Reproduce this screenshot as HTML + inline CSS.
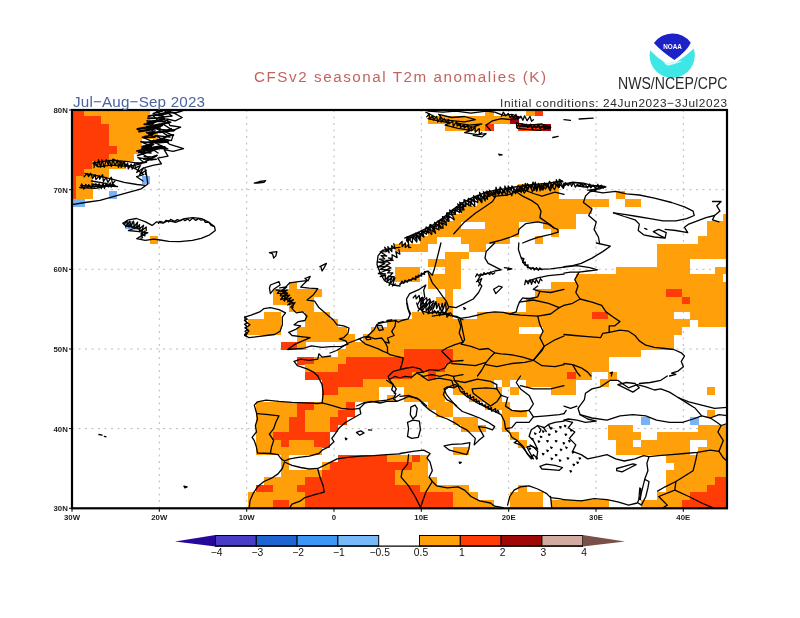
<!DOCTYPE html>
<html><head><meta charset="utf-8"><title>CFSv2 seasonal T2m anomalies (K)</title>
<style>
html,body{margin:0;padding:0;background:#fff;}
body{width:800px;height:618px;overflow:hidden;position:relative;font-family:"Liberation Sans",sans-serif;}
svg{position:absolute;left:0;top:0;}
.t{position:absolute;white-space:nowrap;line-height:1;transform-origin:0 0;}
</style></head><body>
<svg width="800" height="618" viewBox="0 0 800 618">
<rect x="0" y="0" width="800" height="618" fill="#fff"/>
<defs><clipPath id="mapclip"><rect x="72" y="110" width="655" height="398.3"/></clipPath></defs>
<g stroke="#acacac" stroke-width="0.85" stroke-dasharray="2 4.5" fill="none"><line x1="159.3" y1="110.0" x2="159.3" y2="508.3"/><line x1="246.7" y1="110.0" x2="246.7" y2="508.3"/><line x1="334.0" y1="110.0" x2="334.0" y2="508.3"/><line x1="421.3" y1="110.0" x2="421.3" y2="508.3"/><line x1="508.7" y1="110.0" x2="508.7" y2="508.3"/><line x1="596.0" y1="110.0" x2="596.0" y2="508.3"/><line x1="683.3" y1="110.0" x2="683.3" y2="508.3"/><line x1="72.0" y1="428.6" x2="727.0" y2="428.6"/><line x1="72.0" y1="349.0" x2="727.0" y2="349.0"/><line x1="72.0" y1="269.3" x2="727.0" y2="269.3"/><line x1="72.0" y1="189.7" x2="727.0" y2="189.7"/></g>
<g shape-rendering="crispEdges">
<rect x="72.00" y="110.00" width="12.58" height="6.33" fill="#ff3c05"/>
<rect x="84.28" y="110.00" width="65.80" height="6.33" fill="#ffa00a"/>
<rect x="485.47" y="110.00" width="8.49" height="6.33" fill="#ffa00a"/>
<rect x="526.41" y="110.00" width="8.49" height="6.33" fill="#ffa00a"/>
<rect x="534.59" y="110.00" width="8.49" height="6.33" fill="#ff3c05"/>
<rect x="72.00" y="116.03" width="28.96" height="7.83" fill="#ff3c05"/>
<rect x="100.66" y="116.03" width="49.42" height="7.83" fill="#ffa00a"/>
<rect x="428.16" y="116.03" width="82.17" height="7.83" fill="#ffa00a"/>
<rect x="510.03" y="116.03" width="8.49" height="7.83" fill="#a00808"/>
<rect x="72.00" y="123.55" width="37.14" height="7.83" fill="#ff3c05"/>
<rect x="108.84" y="123.55" width="41.24" height="7.83" fill="#ffa00a"/>
<rect x="444.53" y="123.55" width="41.24" height="7.83" fill="#ffa00a"/>
<rect x="485.47" y="123.55" width="8.49" height="7.83" fill="#ff3c05"/>
<rect x="518.22" y="123.55" width="24.86" height="7.83" fill="#ff3c05"/>
<rect x="542.78" y="123.55" width="8.49" height="7.83" fill="#a00808"/>
<rect x="72.00" y="131.08" width="37.14" height="7.83" fill="#ff3c05"/>
<rect x="108.84" y="131.08" width="49.42" height="7.83" fill="#ffa00a"/>
<rect x="72.00" y="138.61" width="37.14" height="7.83" fill="#ff3c05"/>
<rect x="108.84" y="138.61" width="33.05" height="7.83" fill="#ffa00a"/>
<rect x="72.00" y="146.13" width="45.33" height="7.83" fill="#ff3c05"/>
<rect x="117.03" y="146.13" width="24.86" height="7.83" fill="#ffa00a"/>
<rect x="72.00" y="153.66" width="37.14" height="7.83" fill="#ff3c05"/>
<rect x="108.84" y="153.66" width="24.86" height="7.83" fill="#ffa00a"/>
<rect x="72.00" y="161.18" width="20.77" height="7.83" fill="#ff3c05"/>
<rect x="92.47" y="161.18" width="33.05" height="7.83" fill="#ffa00a"/>
<rect x="72.00" y="168.71" width="12.58" height="7.83" fill="#ff3c05"/>
<rect x="84.28" y="168.71" width="24.86" height="7.83" fill="#ffa00a"/>
<rect x="72.00" y="176.24" width="4.39" height="7.83" fill="#ff3c05"/>
<rect x="76.09" y="176.24" width="16.68" height="7.83" fill="#ffa00a"/>
<rect x="141.59" y="176.24" width="8.49" height="7.83" fill="#78b4f5"/>
<rect x="72.00" y="183.76" width="4.39" height="7.83" fill="#ff3c05"/>
<rect x="76.09" y="183.76" width="16.68" height="7.83" fill="#ffa00a"/>
<rect x="518.22" y="183.76" width="41.24" height="7.83" fill="#ffa00a"/>
<rect x="72.00" y="191.29" width="4.39" height="7.83" fill="#ff3c05"/>
<rect x="76.09" y="191.29" width="16.68" height="7.83" fill="#ffa00a"/>
<rect x="108.84" y="191.29" width="8.49" height="7.83" fill="#78b4f5"/>
<rect x="485.47" y="191.29" width="73.99" height="7.83" fill="#ffa00a"/>
<rect x="616.47" y="191.29" width="8.49" height="7.83" fill="#ffa00a"/>
<rect x="72.00" y="198.82" width="12.58" height="7.83" fill="#78b4f5"/>
<rect x="477.28" y="198.82" width="131.30" height="7.83" fill="#ffa00a"/>
<rect x="624.66" y="198.82" width="16.68" height="7.83" fill="#ffa00a"/>
<rect x="460.91" y="206.35" width="131.30" height="7.83" fill="#ffa00a"/>
<rect x="452.72" y="213.87" width="123.11" height="7.83" fill="#ffa00a"/>
<rect x="722.91" y="213.87" width="4.39" height="7.83" fill="#ffa00a"/>
<rect x="125.22" y="221.40" width="8.49" height="7.83" fill="#78b4f5"/>
<rect x="436.34" y="221.40" width="24.86" height="7.83" fill="#ffa00a"/>
<rect x="485.47" y="221.40" width="33.05" height="7.83" fill="#ffa00a"/>
<rect x="542.78" y="221.40" width="33.05" height="7.83" fill="#ffa00a"/>
<rect x="706.53" y="221.40" width="20.77" height="7.83" fill="#ffa00a"/>
<rect x="428.16" y="228.93" width="90.36" height="7.83" fill="#ffa00a"/>
<rect x="550.97" y="228.93" width="8.49" height="7.83" fill="#ffa00a"/>
<rect x="706.53" y="228.93" width="20.77" height="7.83" fill="#ffa00a"/>
<rect x="149.78" y="236.45" width="8.49" height="7.83" fill="#ffa00a"/>
<rect x="419.97" y="236.45" width="16.68" height="7.83" fill="#ffa00a"/>
<rect x="460.91" y="236.45" width="49.42" height="7.83" fill="#ffa00a"/>
<rect x="534.59" y="236.45" width="8.49" height="7.83" fill="#ffa00a"/>
<rect x="698.34" y="236.45" width="28.96" height="7.83" fill="#ffa00a"/>
<rect x="395.41" y="243.98" width="33.05" height="7.83" fill="#ffa00a"/>
<rect x="469.09" y="243.98" width="16.68" height="7.83" fill="#ffa00a"/>
<rect x="657.41" y="243.98" width="69.89" height="7.83" fill="#ffa00a"/>
<rect x="444.53" y="251.51" width="24.86" height="7.83" fill="#ffa00a"/>
<rect x="657.41" y="251.51" width="69.89" height="7.83" fill="#ffa00a"/>
<rect x="428.16" y="259.03" width="33.05" height="7.83" fill="#ffa00a"/>
<rect x="657.41" y="259.03" width="33.05" height="7.83" fill="#ffa00a"/>
<rect x="395.41" y="266.56" width="24.86" height="7.83" fill="#ffa00a"/>
<rect x="444.53" y="266.56" width="16.68" height="7.83" fill="#ffa00a"/>
<rect x="616.47" y="266.56" width="73.99" height="7.83" fill="#ffa00a"/>
<rect x="714.72" y="266.56" width="12.58" height="7.83" fill="#ffa00a"/>
<rect x="395.41" y="274.09" width="24.86" height="7.83" fill="#ffa00a"/>
<rect x="428.16" y="274.09" width="33.05" height="7.83" fill="#ffa00a"/>
<rect x="575.53" y="274.09" width="147.67" height="7.83" fill="#ffa00a"/>
<rect x="288.97" y="281.61" width="8.49" height="7.83" fill="#ffa00a"/>
<rect x="428.16" y="281.61" width="33.05" height="7.83" fill="#ffa00a"/>
<rect x="550.97" y="281.61" width="176.33" height="7.83" fill="#ffa00a"/>
<rect x="272.59" y="289.14" width="49.42" height="7.83" fill="#ffa00a"/>
<rect x="444.53" y="289.14" width="8.49" height="7.83" fill="#ffa00a"/>
<rect x="534.59" y="289.14" width="131.30" height="7.83" fill="#ffa00a"/>
<rect x="665.59" y="289.14" width="16.67" height="7.83" fill="#ff3c05"/>
<rect x="681.97" y="289.14" width="45.33" height="7.83" fill="#ffa00a"/>
<rect x="272.59" y="296.67" width="41.24" height="7.83" fill="#ffa00a"/>
<rect x="436.34" y="296.67" width="16.68" height="7.83" fill="#ffa00a"/>
<rect x="526.41" y="296.67" width="155.86" height="7.83" fill="#ffa00a"/>
<rect x="681.97" y="296.67" width="8.49" height="7.83" fill="#ff3c05"/>
<rect x="690.16" y="296.67" width="37.14" height="7.83" fill="#ffa00a"/>
<rect x="288.97" y="304.19" width="24.86" height="7.83" fill="#ffa00a"/>
<rect x="444.53" y="304.19" width="8.49" height="7.83" fill="#ffa00a"/>
<rect x="526.41" y="304.19" width="200.89" height="7.83" fill="#ffa00a"/>
<rect x="264.41" y="311.72" width="16.68" height="7.83" fill="#ffa00a"/>
<rect x="305.34" y="311.72" width="24.86" height="7.83" fill="#ffa00a"/>
<rect x="411.78" y="311.72" width="41.24" height="7.83" fill="#ffa00a"/>
<rect x="477.28" y="311.72" width="114.93" height="7.83" fill="#ffa00a"/>
<rect x="591.91" y="311.72" width="16.68" height="7.83" fill="#ff3c05"/>
<rect x="608.28" y="311.72" width="65.80" height="7.83" fill="#ffa00a"/>
<rect x="690.16" y="311.72" width="37.14" height="7.83" fill="#ffa00a"/>
<rect x="248.03" y="319.25" width="33.05" height="7.83" fill="#ffa00a"/>
<rect x="305.34" y="319.25" width="33.05" height="7.83" fill="#ffa00a"/>
<rect x="387.22" y="319.25" width="303.24" height="7.83" fill="#ffa00a"/>
<rect x="698.34" y="319.25" width="28.96" height="7.83" fill="#ffa00a"/>
<rect x="248.03" y="326.77" width="33.05" height="7.83" fill="#ffa00a"/>
<rect x="297.16" y="326.77" width="49.42" height="7.83" fill="#ffa00a"/>
<rect x="370.84" y="326.77" width="147.68" height="7.83" fill="#ffa00a"/>
<rect x="542.78" y="326.77" width="139.49" height="7.83" fill="#ffa00a"/>
<rect x="297.16" y="334.30" width="57.61" height="7.83" fill="#ffa00a"/>
<rect x="362.66" y="334.30" width="311.42" height="7.83" fill="#ffa00a"/>
<rect x="280.78" y="341.83" width="16.68" height="7.83" fill="#ff3c05"/>
<rect x="297.16" y="341.83" width="8.49" height="7.83" fill="#ffa00a"/>
<rect x="346.28" y="341.83" width="327.80" height="7.83" fill="#ffa00a"/>
<rect x="338.09" y="349.35" width="65.80" height="7.83" fill="#ffa00a"/>
<rect x="403.59" y="349.35" width="49.42" height="7.83" fill="#ff3c05"/>
<rect x="452.72" y="349.35" width="188.61" height="7.83" fill="#ffa00a"/>
<rect x="297.16" y="356.88" width="16.68" height="7.83" fill="#ff3c05"/>
<rect x="313.53" y="356.88" width="33.05" height="7.83" fill="#ffa00a"/>
<rect x="346.28" y="356.88" width="106.74" height="7.83" fill="#ff3c05"/>
<rect x="452.72" y="356.88" width="155.86" height="7.83" fill="#ffa00a"/>
<rect x="305.34" y="364.41" width="33.05" height="7.83" fill="#ffa00a"/>
<rect x="338.09" y="364.41" width="106.74" height="7.83" fill="#ff3c05"/>
<rect x="444.53" y="364.41" width="164.05" height="7.83" fill="#ffa00a"/>
<rect x="305.34" y="371.94" width="106.74" height="7.83" fill="#ff3c05"/>
<rect x="411.78" y="371.94" width="16.68" height="7.83" fill="#ffa00a"/>
<rect x="428.16" y="371.94" width="8.49" height="7.83" fill="#ff3c05"/>
<rect x="436.34" y="371.94" width="131.30" height="7.83" fill="#ffa00a"/>
<rect x="567.34" y="371.94" width="8.49" height="7.83" fill="#ff3c05"/>
<rect x="575.53" y="371.94" width="16.68" height="7.83" fill="#ffa00a"/>
<rect x="608.28" y="371.94" width="8.49" height="7.83" fill="#ffa00a"/>
<rect x="321.72" y="379.46" width="41.24" height="7.83" fill="#ff3c05"/>
<rect x="362.66" y="379.46" width="131.30" height="7.83" fill="#ffa00a"/>
<rect x="501.84" y="379.46" width="8.49" height="7.83" fill="#ffa00a"/>
<rect x="526.41" y="379.46" width="49.42" height="7.83" fill="#ffa00a"/>
<rect x="600.09" y="379.46" width="8.49" height="7.83" fill="#ffa00a"/>
<rect x="321.72" y="386.99" width="16.68" height="7.83" fill="#ff3c05"/>
<rect x="338.09" y="386.99" width="41.24" height="7.83" fill="#ffa00a"/>
<rect x="403.59" y="386.99" width="41.24" height="7.83" fill="#ffa00a"/>
<rect x="452.72" y="386.99" width="49.42" height="7.83" fill="#ffa00a"/>
<rect x="510.03" y="386.99" width="8.49" height="7.83" fill="#ffa00a"/>
<rect x="550.97" y="386.99" width="24.86" height="7.83" fill="#ffa00a"/>
<rect x="706.53" y="386.99" width="8.49" height="7.83" fill="#ffa00a"/>
<rect x="321.72" y="394.52" width="57.61" height="7.83" fill="#ffa00a"/>
<rect x="387.22" y="394.52" width="8.49" height="7.83" fill="#ffa00a"/>
<rect x="403.59" y="394.52" width="41.24" height="7.83" fill="#ffa00a"/>
<rect x="469.09" y="394.52" width="33.05" height="7.83" fill="#ffa00a"/>
<rect x="256.22" y="402.04" width="41.24" height="7.83" fill="#ffa00a"/>
<rect x="297.16" y="402.04" width="16.68" height="7.83" fill="#ff3c05"/>
<rect x="313.53" y="402.04" width="33.05" height="7.83" fill="#ffa00a"/>
<rect x="346.28" y="402.04" width="8.49" height="7.83" fill="#ff3c05"/>
<rect x="428.16" y="402.04" width="24.86" height="7.83" fill="#ffa00a"/>
<rect x="485.47" y="402.04" width="24.86" height="7.83" fill="#ffa00a"/>
<rect x="256.22" y="409.57" width="41.24" height="7.83" fill="#ffa00a"/>
<rect x="297.16" y="409.57" width="8.49" height="7.83" fill="#ff3c05"/>
<rect x="305.34" y="409.57" width="33.05" height="7.83" fill="#ffa00a"/>
<rect x="338.09" y="409.57" width="16.68" height="7.83" fill="#ff3c05"/>
<rect x="436.34" y="409.57" width="16.68" height="7.83" fill="#ffa00a"/>
<rect x="501.84" y="409.57" width="24.86" height="7.83" fill="#ffa00a"/>
<rect x="706.53" y="409.57" width="8.49" height="7.83" fill="#ffa00a"/>
<rect x="256.22" y="417.10" width="33.05" height="7.83" fill="#ffa00a"/>
<rect x="288.97" y="417.10" width="16.68" height="7.83" fill="#ff3c05"/>
<rect x="305.34" y="417.10" width="24.86" height="7.83" fill="#ffa00a"/>
<rect x="329.91" y="417.10" width="16.68" height="7.83" fill="#ff3c05"/>
<rect x="452.72" y="417.10" width="24.86" height="7.83" fill="#ffa00a"/>
<rect x="501.84" y="417.10" width="8.49" height="7.83" fill="#ffa00a"/>
<rect x="641.03" y="417.10" width="8.49" height="7.83" fill="#78b4f5"/>
<rect x="690.16" y="417.10" width="8.49" height="7.83" fill="#78b4f5"/>
<rect x="256.22" y="424.62" width="33.05" height="7.83" fill="#ffa00a"/>
<rect x="288.97" y="424.62" width="16.68" height="7.83" fill="#ff3c05"/>
<rect x="305.34" y="424.62" width="24.86" height="7.83" fill="#ffa00a"/>
<rect x="329.91" y="424.62" width="8.49" height="7.83" fill="#ff3c05"/>
<rect x="460.91" y="424.62" width="24.86" height="7.83" fill="#ffa00a"/>
<rect x="501.84" y="424.62" width="8.49" height="7.83" fill="#ffa00a"/>
<rect x="608.28" y="424.62" width="24.86" height="7.83" fill="#ffa00a"/>
<rect x="698.34" y="424.62" width="28.96" height="7.83" fill="#ffa00a"/>
<rect x="256.22" y="432.15" width="16.68" height="7.83" fill="#ffa00a"/>
<rect x="272.59" y="432.15" width="57.61" height="7.83" fill="#ff3c05"/>
<rect x="510.03" y="432.15" width="8.49" height="7.83" fill="#ffa00a"/>
<rect x="608.28" y="432.15" width="33.05" height="7.83" fill="#ffa00a"/>
<rect x="657.41" y="432.15" width="69.89" height="7.83" fill="#ffa00a"/>
<rect x="256.22" y="439.68" width="24.86" height="7.83" fill="#ffa00a"/>
<rect x="280.78" y="439.68" width="8.49" height="7.83" fill="#ff3c05"/>
<rect x="288.97" y="439.68" width="24.86" height="7.83" fill="#ffa00a"/>
<rect x="313.53" y="439.68" width="16.68" height="7.83" fill="#ff3c05"/>
<rect x="518.22" y="439.68" width="8.49" height="7.83" fill="#ffa00a"/>
<rect x="616.47" y="439.68" width="16.68" height="7.83" fill="#ffa00a"/>
<rect x="641.03" y="439.68" width="49.42" height="7.83" fill="#ffa00a"/>
<rect x="706.53" y="439.68" width="20.77" height="7.83" fill="#ffa00a"/>
<rect x="256.22" y="447.20" width="65.80" height="7.83" fill="#ffa00a"/>
<rect x="452.72" y="447.20" width="16.68" height="7.83" fill="#ffa00a"/>
<rect x="616.47" y="447.20" width="73.99" height="7.83" fill="#ffa00a"/>
<rect x="698.34" y="447.20" width="28.96" height="7.83" fill="#ffa00a"/>
<rect x="280.78" y="454.73" width="8.49" height="7.83" fill="#ffa00a"/>
<rect x="338.09" y="454.73" width="49.42" height="7.83" fill="#ff3c05"/>
<rect x="387.22" y="454.73" width="24.86" height="7.83" fill="#ffa00a"/>
<rect x="411.78" y="454.73" width="8.49" height="7.83" fill="#ff3c05"/>
<rect x="419.97" y="454.73" width="8.49" height="7.83" fill="#ffa00a"/>
<rect x="665.59" y="454.73" width="61.71" height="7.83" fill="#ffa00a"/>
<rect x="280.78" y="462.26" width="8.49" height="7.83" fill="#ffa00a"/>
<rect x="321.72" y="462.26" width="8.49" height="7.83" fill="#ffa00a"/>
<rect x="329.91" y="462.26" width="82.17" height="7.83" fill="#ff3c05"/>
<rect x="411.78" y="462.26" width="16.68" height="7.83" fill="#ffa00a"/>
<rect x="673.78" y="462.26" width="53.52" height="7.83" fill="#ffa00a"/>
<rect x="280.78" y="469.78" width="41.24" height="7.83" fill="#ffa00a"/>
<rect x="321.72" y="469.78" width="73.99" height="7.83" fill="#ff3c05"/>
<rect x="395.41" y="469.78" width="33.05" height="7.83" fill="#ffa00a"/>
<rect x="665.59" y="469.78" width="61.71" height="7.83" fill="#ffa00a"/>
<rect x="264.41" y="477.31" width="41.24" height="7.83" fill="#ffa00a"/>
<rect x="305.34" y="477.31" width="90.36" height="7.83" fill="#ff3c05"/>
<rect x="395.41" y="477.31" width="41.24" height="7.83" fill="#ffa00a"/>
<rect x="665.59" y="477.31" width="49.42" height="7.83" fill="#ffa00a"/>
<rect x="714.72" y="477.31" width="12.58" height="7.83" fill="#ff3c05"/>
<rect x="256.22" y="484.84" width="16.68" height="7.83" fill="#ff3c05"/>
<rect x="272.59" y="484.84" width="24.86" height="7.83" fill="#ffa00a"/>
<rect x="297.16" y="484.84" width="123.11" height="7.83" fill="#ff3c05"/>
<rect x="419.97" y="484.84" width="49.42" height="7.83" fill="#ffa00a"/>
<rect x="518.22" y="484.84" width="8.49" height="7.83" fill="#ffa00a"/>
<rect x="665.59" y="484.84" width="41.24" height="7.83" fill="#ffa00a"/>
<rect x="706.53" y="484.84" width="20.77" height="7.83" fill="#ff3c05"/>
<rect x="248.03" y="492.37" width="57.61" height="7.83" fill="#ffa00a"/>
<rect x="305.34" y="492.37" width="147.67" height="7.83" fill="#ff3c05"/>
<rect x="452.72" y="492.37" width="24.86" height="7.83" fill="#ffa00a"/>
<rect x="510.03" y="492.37" width="33.05" height="7.83" fill="#ffa00a"/>
<rect x="657.41" y="492.37" width="33.05" height="7.83" fill="#ffa00a"/>
<rect x="690.16" y="492.37" width="37.14" height="7.83" fill="#ff3c05"/>
<rect x="248.03" y="499.89" width="24.86" height="7.83" fill="#ffa00a"/>
<rect x="272.59" y="499.89" width="16.68" height="7.83" fill="#ff3c05"/>
<rect x="288.97" y="499.89" width="16.68" height="7.83" fill="#ffa00a"/>
<rect x="305.34" y="499.89" width="147.67" height="7.83" fill="#ff3c05"/>
<rect x="452.72" y="499.89" width="41.24" height="7.83" fill="#ffa00a"/>
<rect x="510.03" y="499.89" width="33.05" height="7.83" fill="#ffa00a"/>
<rect x="550.97" y="499.89" width="57.61" height="7.83" fill="#ffa00a"/>
<rect x="641.03" y="499.89" width="41.24" height="7.83" fill="#ffa00a"/>
<rect x="681.97" y="499.89" width="45.33" height="7.83" fill="#ff3c05"/>
<rect x="248.03" y="507.42" width="24.86" height="1.18" fill="#ffa00a"/>
<rect x="272.59" y="507.42" width="16.68" height="1.18" fill="#ff3c05"/>
<rect x="288.97" y="507.42" width="16.68" height="1.18" fill="#ffa00a"/>
<rect x="305.34" y="507.42" width="147.67" height="1.18" fill="#ff3c05"/>
<rect x="452.72" y="507.42" width="41.24" height="1.18" fill="#ffa00a"/>
<rect x="510.03" y="507.42" width="33.05" height="1.18" fill="#ffa00a"/>
<rect x="550.97" y="507.42" width="57.61" height="1.18" fill="#ffa00a"/>
<rect x="641.03" y="507.42" width="41.24" height="1.18" fill="#ffa00a"/>
<rect x="681.97" y="507.42" width="45.33" height="1.18" fill="#ff3c05"/>
</g>
<g fill="none" stroke="#000" stroke-width="1.30" stroke-linejoin="round" stroke-linecap="round" clip-path="url(#mapclip)"><path d="M163.5,110.0 L173.1,112.6 L182.2,117.5 L175.3,120.8 L166.7,119.0 L169.9,125.5 L180.7,127.2 L173.1,130.4 L163.5,131.1 L173.1,135.4 L171.4,140.6 L162.0,138.4 L169.9,144.4 L183.5,148.7 L173.1,151.3 L164.1,149.6 L168.0,156.1 L157.7,158.2 L161.5,163.8 L153.8,165.1 L144.7,167.7 L146.5,174.6 L147.8,184.0 L141.3,188.8 L125.8,193.1 L115.0,196.1 L100.0,200.4 L84.9,202.5 L72.0,204.7"/><path d="M154.2,109.5 L162.7,115.4 L153.0,115.6 L158.4,121.3 L146.7,120.8 L156.3,127.2 L146.5,126.5 L154.1,131.8 L146.3,132.4 L154.8,137.4 L142.2,137.1 L155.8,142.9 L140.7,141.7 L151.6,146.7 L141.5,146.8 L151.2,153.0 L139.6,152.3 L152.1,159.8 L137.8,157.6 L143.0,161.7"/><path d="M164.7,111.0 L172.2,116.0 L158.9,117.3 L170.9,122.3 L162.2,123.6 L173.5,130.8 L157.2,128.9 L170.0,137.2 L155.0,135.5 L168.5,142.2 L155.5,143.0 L167.8,148.9 L150.8,148.3 L158.1,153.0"/><path d="M94.0,167.7 L94.6,161.4 L97.5,166.6 L98.5,159.7 L100.7,167.2 L102.0,159.9 L104.2,167.3 L106.3,159.7 L108.3,165.0 L109.1,160.3 L111.4,166.5 L112.8,159.7 L115.1,165.6 L117.5,160.2 L118.5,167.3 L120.9,161.2 L121.2,167.4 L124.1,161.4 L125.1,167.1 L127.6,163.1 L128.3,168.9 L131.2,164.1 L132.2,169.1 L134.8,163.5 L135.3,167.8 L140.3,165.6 L136.7,172.5 L143.7,167.7 L139.6,174.6 L146.2,170.2 L145.2,174.6"/><path d="M84.1,176.7 L87.2,173.5 L88.5,176.6 L90.7,173.3 L92.6,178.4 L95.1,174.8 L95.9,179.7 L99.2,175.8 L99.6,179.2 L102.6,174.7 L103.4,181.3 L106.2,177.5 L107.8,182.4 L111.3,177.2 L112.4,183.7 L115.0,181.0"/><path d="M81.2,187.8 L81.8,184.0 L83.8,189.2 L85.7,184.4 L87.9,187.5 L88.6,184.7 L91.5,187.8 L92.3,184.7 L94.6,187.0 L95.8,183.6 L98.0,187.7 L99.1,183.7 L101.3,188.6 L103.1,183.0 L104.5,188.4 L106.0,183.1 L108.4,186.9 L110.3,182.9 L111.2,187.1 L112.8,183.8 L115.0,185.8"/><path d="M93.1,162.9 L110.7,160.4 L128.4,161.7 L141.3,163.8 L128.4,166.4 L111.2,165.1 L98.3,166.8 L93.1,163.8"/><path d="M112.9,159.1 L124.1,163.8 L136.6,169.4 L143.5,174.6 L136.6,176.7 L143.0,181.0"/><path d="M84.9,173.5 L98.3,175.9 L111.2,178.9 L124.1,182.3 L137.0,184.5 L145.2,185.3"/><path d="M91.4,181.0 L104.3,183.2 L117.6,186.6 L104.3,185.8 L91.8,184.0"/><path d="M80.6,185.3 L93.5,186.6 L111.2,185.3 L95.7,188.3 L79.7,187.5"/><path d="M122.8,223.2 L128.4,219.8 L136.6,218.5 L145.6,221.9 L152.1,225.4 L156.4,221.9 L162.8,223.2 L168.0,220.6 L175.7,222.3 L184.3,218.7 L192.9,217.6 L201.6,218.7 L208.0,221.9 L214.5,226.6 L215.3,230.5 L209.7,234.8 L201.1,238.3 L192.5,240.4 L179.6,241.7 L168.8,241.3 L160.2,240.0 L153.8,239.1 L145.2,240.4 L136.6,238.7 L141.3,235.9 L147.8,232.7 L139.1,231.6 L128.4,230.5 L137.0,227.5 L126.2,226.2 L122.8,223.2"/><path d="M124.2,224.2 L127.0,220.8 L127.3,225.0 L129.9,221.2 L130.5,226.4 L133.5,221.1 L134.4,226.3 L137.6,222.1 L136.6,227.7 L139.6,224.7 L138.8,229.3 L143.6,225.3 L142.0,230.4 L146.2,227.0 L146.2,230.5"/><path d="M125.5,226.8 L127.7,223.8 L128.7,226.9 L130.5,223.8 L132.1,227.4 L134.1,225.9 L134.8,228.9 L137.1,226.3 L136.9,228.9 L140.0,228.0 L139.3,231.5 L142.6,229.2 L141.6,234.2 L145.0,231.0 L144.5,233.0 L144.9,235.8 L141.0,233.8 L142.5,237.8 L140.9,238.1"/><path d="M158.5,223.4 L159.9,221.4 L164.1,222.6 L166.1,220.3 L168.8,222.0 L170.6,219.4 L174.6,221.4 L177.4,219.6 L180.4,220.8 L183.1,219.3 L184.9,220.6 L187.8,218.9 L189.7,220.9 L192.8,218.0 L195.8,220.4 L198.8,218.4 L200.5,220.1 L204.3,219.7 L205.1,222.3 L209.3,222.4 L210.8,225.2 L213.0,226.2"/><path d="M174.7,112.9 L180.3,111.4 L186.2,109.1" stroke-width="1.6"/><path d="M163.1,114.4 L172.2,112.5 L176.3,112.7" stroke-width="1.6"/><path d="M148.4,116.1 L157.8,114.3 L170.2,111.8" stroke-width="1.8"/><path d="M148.1,118.3 L158.0,118.0 L163.8,116.8" stroke-width="2.1"/><path d="M149.7,121.4 L156.6,120.4 L164.8,118.6" stroke-width="1.4"/><path d="M147.4,122.7 L157.7,120.9 L165.0,121.5" stroke-width="2.0"/><path d="M144.4,124.2 L147.5,124.3 L153.0,123.5" stroke-width="2.1"/><path d="M148.5,126.6 L161.4,124.1 L168.3,122.5" stroke-width="2.3"/><path d="M137.5,129.1 L143.8,127.8 L157.8,127.3" stroke-width="2.3"/><path d="M139.1,131.4 L153.2,129.1 L162.2,125.2" stroke-width="2.2"/><path d="M159.9,132.2 L167.2,130.5 L171.1,129.1" stroke-width="2.3"/><path d="M149.2,134.2 L157.4,132.3 L174.4,130.1" stroke-width="2.1"/><path d="M144.4,136.6 L147.5,136.2 L153.5,133.8" stroke-width="1.7"/><path d="M163.3,138.3 L167.6,135.7 L173.3,135.1" stroke-width="2.0"/><path d="M153.5,141.4 L157.5,140.3 L161.7,138.9" stroke-width="2.2"/><path d="M150.8,142.4 L157.4,140.5 L163.7,139.5" stroke-width="2.3"/><path d="M148.7,144.5 L155.2,142.0 L168.9,140.8" stroke-width="1.5"/><path d="M143.2,146.2 L148.1,145.8 L153.3,144.5" stroke-width="2.1"/><path d="M147.0,149.1 L152.1,147.6 L161.6,145.8" stroke-width="1.7"/><path d="M136.8,151.1 L147.0,148.6 L158.0,147.0" stroke-width="1.5"/><path d="M138.8,152.1 L153.5,149.0 L164.7,147.1" stroke-width="2.1"/><path d="M137.7,155.5 L152.3,150.7 L159.6,147.9" stroke-width="1.8"/><path d="M144.1,156.7 L151.9,156.9 L157.1,155.3" stroke-width="1.5"/><path d="M143.7,159.1 L152.5,158.1 L156.5,155.7" stroke-width="1.7"/><path d="M145.6,161.2 L149.9,159.6 L156.2,159.2" stroke-width="1.6"/><path d="M136.4,163.3 L140.0,163.2 L146.2,162.1" stroke-width="2.0"/><path d="M153.3,113.5 L158.4,112.0 L162.6,111.0" stroke-width="1.7"/><path d="M159.4,119.7 L162.0,120.0 L164.7,118.4" stroke-width="1.8"/><path d="M149.4,123.6 L153.2,122.9 L156.0,121.7" stroke-width="1.6"/><path d="M153.7,128.7 L157.3,128.7 L160.2,128.0" stroke-width="1.7"/><path d="M149.4,132.4 L152.2,132.3 L155.0,130.9" stroke-width="1.5"/><path d="M144.2,137.6 L150.3,137.2 L155.6,136.2" stroke-width="1.5"/><path d="M145.8,142.8 L150.9,141.9 L153.9,140.2" stroke-width="1.6"/><path d="M141.9,148.9 L146.5,147.3 L150.0,146.3" stroke-width="1.8"/><path d="M254.3,183.2 L259.7,181.5 L265.7,180.6 L264.0,182.3 L257.5,183.2 L254.3,183.2"/><path d="M425.8,112.2 L434.4,116.5 L428.0,118.6 L438.7,120.8 L449.5,122.9 L445.2,125.1 L458.1,128.3 L471.0,130.4 L464.6,132.6 L477.5,134.7 L486.1,133.7 L481.8,136.9 L473.2,135.4"/><path d="M438.7,114.3 L451.7,117.5 L464.6,116.5 L475.3,119.7 L464.6,121.8 L453.8,120.8 L443.0,119.7 L438.7,114.3"/><path d="M456.0,122.9 L468.9,125.1 L481.8,124.0 L473.2,127.2 L460.3,126.1 L456.0,122.9"/><path d="M428.0,111.1 L443.0,112.2 L456.0,111.1 L471.0,113.2 L486.1,111.1 L494.7,112.2 L503.3,115.4 L511.9,114.3 L520.5,117.5 L511.9,119.7 L501.1,118.6 L492.5,120.8 L486.1,125.1 L490.4,130.4"/><path d="M516.2,122.9 L529.1,125.1 L542.0,124.0 L550.6,127.2 L539.9,130.4 L527.0,129.4 L517.3,128.3 L516.2,122.9"/><path d="M520.5,126.1 L533.4,127.2 L546.3,126.8"/><path d="M426.7,116.8 L429.1,114.0 L430.0,119.2 L432.5,115.5 L433.4,120.0 L436.6,116.5 L437.8,122.0 L440.5,117.0 L441.2,122.2 L444.3,118.8 L446.3,122.3 L448.5,119.5 L449.0,123.8 L452.7,121.2 L453.3,126.4 L456.6,121.5 L457.1,126.0 L460.4,123.9 L460.5,127.6 L464.3,124.6 L464.1,128.2 L467.9,124.6 L468.3,130.3 L471.4,126.7 L471.6,130.8 L475.1,127.3 L475.2,132.2 L479.3,128.6 L479.3,134.6 L481.8,132.6"/><path d="M516.6,127.5 L518.4,124.2 L519.7,127.1 L522.1,123.9 L523.7,126.6 L526.5,124.3 L527.7,127.5 L530.7,124.3 L532.1,128.8 L534.6,125.0 L535.8,128.0 L538.8,124.6 L540.0,128.8 L543.1,125.6 L544.0,128.2 L546.8,126.0 L548.3,128.9 L550.6,127.6"/><path d="M501.3,116.3 L503.3,112.2 L505.7,115.9 L508.3,113.4 L510.0,117.5 L512.1,115.2 L513.6,118.5 L516.0,114.4 L517.5,119.4 L520.8,116.1 L522.9,120.2 L524.6,115.8 L527.1,120.7 L530.1,116.4 L531.5,121.3 L533.4,119.7"/><path d="M552.8,137.5 L558.2,136.3"/><path d="M498.6,154.1 L502.2,154.8 L499.4,155.2"/><path d="M404.7,238.1 L419.8,231.6 L432.7,225.1 L443.5,217.6 L452.1,210.1 L462.8,202.5 L473.6,197.2 L484.4,192.9 L495.1,190.1 L505.9,188.6 L514.5,187.0 L527.4,185.3 L538.2,184.2 L548.9,183.2 L562.3,181.0"/><path d="M407.7,242.1 L407.7,238.1 L410.2,239.7 L410.1,236.5 L413.1,238.5 L413.1,234.3 L416.9,240.3 L415.6,233.1 L419.5,238.1 L418.8,232.3 L422.3,236.1 L421.3,230.3 L424.4,232.8 L425.1,230.2 L428.4,233.1 L427.1,227.6 L430.5,231.1 L429.8,225.0 L434.0,230.4 L432.9,225.8 L436.5,226.9 L434.6,222.4 L441.1,228.6 L438.1,220.9 L442.5,224.7 L441.2,219.5 L445.5,222.7 L442.5,216.6 L448.9,221.4 L446.2,216.2 L449.7,217.6 L447.6,213.0 L452.5,215.5 L449.5,210.0 L455.6,214.1 L454.3,210.4 L457.1,211.0 L457.0,207.9 L461.5,212.4 L457.7,203.9 L464.1,209.8 L461.0,202.7 L465.7,206.4 L465.6,202.4 L468.8,205.6 L468.6,200.5 L471.6,203.7 L470.9,198.4 L474.5,201.6 L473.7,195.7 L476.8,199.6 L477.2,195.3 L481.8,201.6 L479.6,192.5 L485.2,201.0 L483.4,191.7 L487.5,199.4 L486.9,190.9 L489.8,195.1 L490.9,192.9 L492.5,194.7 L493.7,191.3 L495.8,194.9 L496.0,187.2 L498.8,195.0 L499.1,189.0 L502.3,194.9 L503.1,190.0 L504.7,192.6 L504.9,185.9 L507.7,193.3 L508.2,185.9 L511.2,190.8 L511.9,186.0 L515.6,193.7 L516.5,188.4 L517.7,191.7 L519.3,187.7 L521.2,192.6 L522.4,187.6 L524.3,189.9 L525.3,183.5 L527.7,190.7 L528.4,185.1 L531.0,188.2 L532.0,184.5 L534.2,190.4 L535.3,182.1 L537.0,189.5 L538.5,183.3 L540.1,190.8 L541.7,183.8 L543.0,190.0 L544.7,183.3 L546.6,187.5 L547.8,183.8 L549.6,190.0 L550.9,184.3 L553.0,186.3 L553.8,181.9 L555.6,185.2 L556.4,179.7 L559.1,187.3 L560.4,180.8 L563.4,188.4 L564.0,183.2"/><path d="M408.6,244.7 L408.1,238.4 L412.2,242.9 L412.7,237.1 L416.8,242.0 L416.4,234.9 L420.2,240.6 L420.3,233.5 L423.9,237.0 L422.6,230.8 L426.3,234.3 L427.3,230.0 L431.7,234.5 L432.0,229.9 L435.5,233.2 L434.0,227.3 L439.1,229.8 L438.1,224.6 L443.0,228.3 L442.8,222.9 L446.5,225.3 L445.8,221.2 L449.1,220.4 L447.7,215.2 L454.3,219.7 L451.9,214.1 L455.4,214.0 L454.7,209.0 L459.9,212.7 L459.8,209.7 L463.0,210.1 L463.1,206.7 L465.5,206.4 L466.3,203.4 L470.9,206.2 L470.1,201.7 L474.7,206.3 L474.6,200.7 L477.6,202.4 L478.1,197.8 L481.8,202.8 L482.1,197.3 L485.6,199.1 L487.8,196.2 L489.3,196.5 L491.8,194.8 L494.7,197.4 L495.7,190.9 L498.2,194.2 L499.5,190.4 L501.9,193.6 L504.5,191.8 L506.9,195.5 L508.1,189.0 L511.8,195.8 L512.8,191.0 L514.9,191.5 L517.4,189.4 L519.5,191.4 L520.8,187.2 L524.3,193.1 L526.7,189.4 L527.7,189.4 L530.3,184.9 L532.4,192.1 L534.7,185.8 L536.7,191.2 L538.8,184.3 L541.9,189.8 L543.7,187.1 L545.6,189.1 L547.1,184.4 L550.4,190.8 L551.8,186.2 L554.6,189.7 L556.4,184.8 L558.5,187.7 L560.4,184.8 L563.1,187.9 L565.3,184.7"/><path d="M406.6,240.9 L406.9,236.8 L410.8,237.8 L413.2,234.9 L416.2,235.0 L418.2,232.9 L421.9,234.6 L423.2,231.1 L425.4,231.4 L426.1,227.0 L429.1,228.8 L430.6,224.4 L434.1,227.5 L435.5,223.9 L439.1,225.7 L439.1,220.4 L442.6,220.7 L443.0,217.1 L446.6,217.2 L446.7,212.9 L451.3,214.4 L452.3,211.0 L455.6,210.1 L456.3,206.9 L461.0,208.5 L459.7,202.2 L463.9,206.0 L464.0,199.6 L468.1,201.8 L468.4,198.3 L473.8,201.8 L473.4,196.9 L477.3,198.0 L479.8,194.8 L483.2,197.9 L485.0,192.1 L488.8,195.4 L489.6,190.5 L493.8,194.7 L496.1,190.1 L499.6,193.2 L500.1,186.8 L503.5,192.1 L505.7,188.2 L510.1,189.5 L512.2,186.5 L516.3,191.3 L518.0,185.5 L521.1,188.2 L522.7,184.7 L525.9,188.0 L527.3,183.6 L531.3,187.9 L533.0,182.2 L536.5,187.6 L539.2,184.8 L542.6,187.9 L544.3,182.9 L547.7,186.7 L549.5,181.3 L552.2,185.0 L554.6,182.7 L558.6,186.3 L559.3,179.4 L562.9,181.9"/><path d="M453.8,233.7 L464.6,221.9 L475.3,213.3 L485.0,206.8 L492.5,201.5 L495.8,196.1 L507.6,195.0 L516.2,191.8"/><path d="M516.2,191.8 L522.7,196.1 L531.3,200.4 L537.7,204.7 L541.0,211.1 L539.9,217.6 L550.6,225.1 L553.9,227.9"/><path d="M516.2,191.8 L524.8,190.1 L533.4,193.5 L542.0,196.1 L555.0,192.2 L564.0,194.4"/><path d="M490.0,243.0 L501.1,240.2 L510.8,237.0 L518.4,233.7 L518.8,229.4 L520.5,227.9 L525.9,223.6 L537.7,221.9 L548.5,224.1 L553.9,227.9 L557.7,229.4 L558.2,232.2 L550.6,234.4 L537.7,237.4 L529.1,240.4 L522.7,243.0"/><path d="M564.0,184.2 L572.6,182.1 L583.4,183.2 L592.0,185.3 L604.9,186.4 L596.3,188.6 L589.8,190.7 L602.7,192.9 L615.7,191.3 L626.4,193.9 L639.3,195.0 L654.4,198.2 L671.6,202.5 L684.5,206.8 L693.1,211.1 L694.2,215.5 L686.7,218.7 L675.9,220.8 L663.0,220.8 L650.1,218.7 L637.2,216.5 L624.3,214.4 L613.5,212.9"/><path d="M613.5,212.9 L624.3,216.5 L635.0,219.8 L639.3,224.1 L638.2,230.5 L643.6,234.8 L654.4,237.0 L665.1,238.1 L658.7,234.8 L653.3,231.6 L658.7,229.4 L666.2,232.7 L665.1,238.1"/><path d="M665.1,229.4 L675.9,230.5 L687.7,232.7 L684.5,227.3 L688.8,224.1 L697.4,220.8 L706.0,217.6 L714.6,215.5"/><path d="M712.5,201.5 L721.1,201.5 L716.8,205.8 L720.0,211.1 L714.6,215.5 L712.5,219.8 L719.0,221.9"/><path d="M585.5,196.1 L583.4,202.5 L592.0,209.0 L588.7,215.5 L596.3,221.9 L594.1,229.4 L598.4,237.0 L599.5,243.0"/><path d="M585.5,196.1 L589.8,191.8 L596.3,190.1"/><path d="M564.0,185.3 L570.5,183.2 L576.9,182.7 L583.4,184.2 L576.9,185.8 L585.5,187.0 L594.1,185.8 L606.0,187.0 L598.4,189.2 L587.7,190.1"/><path d="M563.4,185.0 L565.6,182.6 L568.2,185.6 L570.2,182.8 L571.6,186.3 L573.4,182.6 L575.4,187.2 L577.5,184.0 L579.1,186.4 L582.2,183.9 L583.0,186.9 L585.0,183.5 L587.4,187.9 L589.7,184.0 L590.8,187.8 L593.1,185.0 L595.5,188.1 L597.9,184.3 L598.5,187.9 L601.3,185.2 L603.4,188.0 L604.9,187.0"/><path d="M579.1,119.0 L593.1,118.2"/><path d="M564.0,119.7 L570.5,120.3"/><path d="M644.7,228.4 L646.9,229.4"/><path d="M269.4,252.7 L276.9,251.6 L275.8,255.9 L273.7,258.1 L272.6,253.8 L269.4,252.7"/><path d="M319.9,266.7 L326.4,263.4 L324.2,267.7 L322.1,271.0 L321.0,267.1"/><path d="M304.9,278.5 L310.2,276.4 L308.1,280.7 L304.9,278.5"/><path d="M270.4,285.0 L279.0,281.7 L280.1,285.0 L273.7,289.3 L270.4,293.6 L269.4,288.2 L270.4,285.0"/><path d="M289.8,282.8 L298.4,281.7 L307.0,280.7 L300.6,287.1 L309.2,288.2 L317.8,288.6 L313.5,294.7 L307.0,300.0 L314.6,301.1 L318.9,307.6 L326.4,314.0 L332.8,319.4 L337.1,324.8 L343.6,325.9 L349.0,328.0 L347.9,333.4 L343.6,337.7 L339.3,338.8 L345.8,340.9 L347.9,344.1 L341.5,346.3 L330.7,346.7 L322.1,347.4 L311.3,345.9 L302.7,348.5 L294.1,348.9 L287.7,349.5 L295.2,344.1 L302.7,340.9 L310.2,337.7 L300.6,336.6 L292.0,335.5 L288.7,332.3 L296.3,329.1 L300.6,325.9 L294.1,324.8 L298.4,321.6 L304.9,320.5 L307.0,316.2 L302.7,311.9 L296.3,312.9 L292.0,308.6 L294.1,303.3 L288.7,301.1 L284.4,296.8 L287.7,293.6 L282.3,291.4 L285.5,287.1 L289.8,282.8"/><path d="M279.7,287.9 L286.8,286.9 L280.6,291.4 L287.2,290.1 L281.0,294.0 L287.2,292.9 L282.8,296.4 L289.7,295.1 L283.8,300.4 L291.2,297.7 L287.6,302.0 L293.4,299.7 L287.8,305.0 L295.2,302.6 L290.6,307.1 L293.0,307.6"/><path d="M276.0,290.0 L280.0,290.3 L277.3,293.3 L281.1,293.3 L280.3,295.8 L283.4,295.9 L280.6,299.5 L285.3,298.3 L284.4,301.1"/><path d="M244.6,317.2 L251.1,315.1 L259.7,311.9 L264.0,308.6 L270.4,307.6 L279.0,309.7 L285.5,312.9 L282.3,317.2 L282.3,324.8 L280.1,331.2 L274.7,334.5 L266.1,335.5 L257.5,336.6 L248.9,337.7 L244.6,334.5 L248.9,331.2 L245.7,328.0 L250.0,324.8 L245.7,321.6 L244.6,317.2"/><path d="M244.9,316.9 L247.2,319.3 L244.4,320.3 L247.4,322.9 L244.5,324.3 L247.2,326.4 L244.9,327.9 L247.9,329.6 L245.0,331.3 L247.4,333.6 L244.6,335.4 L246.8,336.6"/><path d="M294.1,361.4 L300.6,359.2 L309.2,360.3 L317.8,359.2 L318.9,353.8 L322.1,357.1 L330.7,356.0"/><path d="M294.1,361.4 L297.3,365.7 L307.0,368.9 L313.5,372.1 L317.8,376.0"/><path d="M400.0,247.3 L391.0,248.4 L382.3,250.5 L378.0,255.9 L377.0,264.5 L380.2,273.1 L384.5,280.7 L393.1,285.0 L400.0,286.0"/><path d="M393.8,243.6 L395.0,248.9 L391.7,245.7 L391.8,251.7 L387.8,246.7 L389.2,252.8 L384.7,247.2 L386.4,251.7 L380.2,251.8 L386.7,256.0 L381.0,255.6 L384.7,258.8 L379.5,259.1 L386.2,262.2 L377.2,261.9 L384.7,263.6 L377.4,267.1 L386.6,266.2 L380.2,269.4 L387.1,270.0 L378.3,273.5 L385.7,274.0 L380.3,276.7 L385.6,275.6 L384.8,280.4 L389.0,275.8 L386.7,282.0 L392.1,277.0 L389.1,285.3 L394.9,277.7 L392.4,286.1 L395.3,283.9"/><path d="M398.9,249.7 L399.9,254.2 L395.9,251.9 L397.1,257.6 L392.1,254.7 L392.2,258.7 L388.4,258.0 L393.2,260.3 L385.8,260.5 L390.2,263.5 L386.1,265.1 L390.9,267.9 L384.8,270.4 L390.1,270.4 L387.6,272.9 L392.8,272.8 L389.4,276.7 L394.2,276.6 L393.1,279.6"/><path d="M399.5,244.1 L402.1,241.5 L402.1,246.7 L405.4,242.9 L405.3,247.4 L408.7,244.8 L408.7,247.5 L410.8,247.3"/><path d="M400.0,283.9 L408.6,280.7 L417.2,277.4 L423.7,273.1 L428.0,271.0 L432.3,275.3 L434.4,268.8"/><path d="M400.0,284.6 L402.0,281.1 L403.8,283.4 L404.9,280.2 L407.3,282.2 L408.6,279.7 L411.1,280.5 L412.7,277.9 L415.8,279.8 L415.7,276.1 L418.0,277.3 L418.3,275.1 L421.7,276.1 L421.2,273.2 L424.5,274.5 L424.5,271.7 L426.9,271.4"/><path d="M428.0,272.1 L430.1,277.4 L432.3,282.8 L437.7,289.3 L443.0,296.8 L446.3,301.1 L448.4,306.5 L456.0,307.6 L464.6,303.3 L473.2,299.0 L478.6,292.5 L481.8,286.0 L477.5,280.7 L480.7,275.3 L488.2,273.1 L494.7,271.0 L501.1,269.9 L494.7,266.7 L488.2,263.4 L485.0,258.1 L486.1,251.6 L490.4,247.3 L494.7,243.0"/><path d="M434.4,268.8 L437.7,255.9 L440.9,243.0"/><path d="M410.8,314.0 L407.5,307.6 L406.5,299.0 L409.7,293.6 L419.4,289.3 L425.8,285.0 L423.7,290.3 L424.7,296.8 L421.5,301.1 L425.8,305.4 L420.4,307.6 L423.7,314.0"/><path d="M417.5,304.8 L421.5,297.6 L420.4,306.2 L423.2,300.9 L423.0,307.2 L426.6,301.3 L426.5,306.4 L430.2,300.7 L428.8,309.7 L432.7,303.4 L433.2,308.9 L436.0,301.6 L436.6,308.6 L438.7,303.7 L440.1,310.4 L442.3,303.3 L443.1,309.4 L445.5,302.3 L446.4,311.2 L448.4,307.6"/><path d="M418.0,311.1 L422.2,305.6 L422.1,310.8 L425.8,305.6 L426.2,310.9 L428.6,307.2 L428.1,313.9 L431.9,307.1 L432.5,313.7 L434.4,310.5 L436.6,313.5 L438.1,310.9 L439.6,315.8 L442.2,309.2 L443.6,314.5 L445.9,311.3 L447.0,317.2 L449.5,314.0"/><path d="M413.2,297.7 L415.6,295.1 L416.2,298.9 L419.1,295.4 L419.9,299.8 L422.5,297.1 L423.1,300.9 L426.6,297.6 L427.0,300.9 L429.8,298.8 L430.5,302.9 L433.8,300.9 L434.0,304.0 L436.6,303.3"/><path d="M493.6,289.3 L499.0,286.0 L502.2,287.1 L495.8,293.6 L493.6,289.3"/><path d="M476.4,281.7 L481.8,278.5 L478.6,286.0"/><path d="M463.5,307.6 L465.6,308.6 L464.1,309.3"/><path d="M504.4,267.7 L511.9,268.8 L507.6,269.9"/><path d="M475.6,276.8 L477.2,273.9 L478.7,275.8 L480.7,273.9 L482.8,275.1 L484.0,272.6 L485.6,274.4 L487.7,272.9 L489.8,274.5 L490.5,272.0 L492.7,274.2 L494.7,272.7"/><path d="M518.8,243.0 L518.4,249.5 L520.5,255.9 L523.7,263.4 L529.1,267.7 L537.7,269.3 L550.6,268.8 L564.0,267.1"/><path d="M521.2,258.0 L523.9,258.7 L522.6,262.3 L525.4,262.2 L524.9,265.1 L528.1,264.9 L527.4,267.7 L528.8,267.3 L531.0,269.3 L533.1,267.4 L534.2,270.1 L536.5,267.6 L538.4,270.3 L539.8,267.9 L542.0,269.7"/><path d="M527.0,281.3 L537.7,277.9 L548.5,275.7 L564.0,274.2"/><path d="M524.7,284.6 L525.7,280.1 L528.2,283.8 L530.0,279.7 L531.6,284.3 L532.7,280.1 L535.2,283.1 L536.2,279.4 L538.7,283.4 L540.4,278.7 L542.0,280.7"/><path d="M537.7,286.0 L533.4,289.3 L539.9,291.4 L537.7,296.8 L529.1,299.0 L522.7,297.9 L519.4,302.2 L517.3,307.6 L516.2,311.9 L513.0,312.9 L509.8,314.0 L503.3,312.3 L494.7,311.9 L486.1,312.9 L477.5,315.1 L468.9,317.2 L460.3,318.3 L452.7,316.2 L450.6,312.9 L446.3,314.0 L438.7,315.1 L432.3,316.2"/><path d="M460.3,318.3 L462.4,329.1 L464.6,339.8 L461.3,344.1"/><path d="M461.3,344.1 L471.0,346.3 L479.6,349.5 L488.2,348.5 L494.7,352.8 L501.1,353.8 L511.9,354.9 L522.7,357.1 L533.4,360.3"/><path d="M537.7,316.2 L539.9,324.8 L543.1,331.2 L539.9,337.7 L544.2,346.3 L537.7,354.9 L533.4,360.3"/><path d="M509.8,314.0 L520.5,315.1 L537.7,316.2 L550.6,314.0 L559.3,307.6 L564.0,305.4"/><path d="M519.4,302.2 L533.4,300.0 L548.5,303.3 L559.3,307.6"/><path d="M539.9,291.4 L550.6,292.5 L564.0,289.3"/><path d="M451.7,363.5 L464.6,364.6 L475.3,365.7 L486.1,362.4 L490.4,357.1 L494.7,352.8"/><path d="M486.1,362.4 L481.8,370.0 L477.5,376.0"/><path d="M486.1,364.6 L496.8,366.7 L511.9,363.5 L524.8,362.4 L533.4,360.3"/><path d="M533.4,360.3 L542.0,350.6 L544.2,346.3 L555.0,339.8 L564.0,336.0"/><path d="M533.4,360.3 L542.0,365.7 L555.0,366.7 L564.0,364.6"/><path d="M596.3,243.0 L610.3,246.2 L602.7,251.6 L592.0,258.1 L581.2,263.4 L572.6,265.6 L564.0,266.7"/><path d="M564.0,267.1 L576.9,265.6 L589.8,267.7 L597.4,269.9 L587.7,271.0 L579.1,272.1 L570.5,272.1 L564.0,273.1"/><path d="M579.1,272.1 L574.8,279.6 L578.0,286.0 L575.8,292.5 L580.1,299.0 L572.6,303.3 L564.0,305.4"/><path d="M580.1,299.0 L592.0,302.2 L601.7,305.4 L606.0,311.9 L613.5,317.2 L620.0,321.6 L614.6,325.9 L609.2,325.9 L609.2,332.3"/><path d="M564.0,334.5 L574.8,335.5 L587.7,336.6 L600.6,337.7 L602.7,333.4 L609.2,332.3"/><path d="M609.2,332.3 L620.0,330.2 L628.6,331.2 L635.0,335.5 L639.3,340.9 L645.8,345.2 L654.4,347.4 L665.1,348.5 L673.8,349.5 L681.3,352.8 L684.5,356.0 L681.3,361.4 L683.4,366.7 L678.1,371.1 L671.6,373.2 L675.9,374.3 L669.5,376.0"/><path d="M611.3,376.0 L612.4,372.1 L610.3,373.2"/><path d="M564.0,363.5 L572.6,364.6 L581.2,367.8 L587.7,372.1 L590.9,376.0"/><path d="M572.6,364.6 L576.9,372.1 L580.1,376.0"/><path d="M254.3,405.1 L257.5,401.8 L266.1,400.1 L279.0,401.4 L292.0,402.3 L304.9,402.9 L317.8,403.5 L322.1,402.9 L330.7,405.1 L341.5,408.3 L352.2,409.4 L359.7,408.3 L360.8,413.7 L353.3,418.0 L345.8,422.3 L339.3,427.7 L335.0,434.1 L331.8,438.4 L333.9,441.6 L328.5,447.0 L322.1,450.2 L318.9,453.5 L309.2,456.1 L298.4,457.3 L289.8,458.9 L284.4,461.0 L281.2,458.9 L278.0,454.6 L270.4,453.5 L257.5,453.0 L256.4,447.0 L254.3,440.6 L252.1,437.3 L256.4,432.0 L255.4,425.5 L257.5,419.0 L256.4,412.6 L254.3,405.1"/><path d="M257.5,413.7 L268.3,414.7 L279.0,415.8 L275.8,422.3 L273.7,428.7 L269.4,434.1 L273.7,440.6 L271.5,447.0 L270.4,453.5"/><path d="M322.1,402.9 L323.2,393.2 L322.1,384.6 L318.9,378.2 L317.8,376.0"/><path d="M359.7,408.3 L365.1,402.9 L375.9,401.4 L386.6,400.1 L395.3,397.5 L400.0,394.3"/><path d="M386.6,380.3 L393.1,384.6 L396.3,388.9 L394.2,393.2"/><path d="M356.5,432.4 L360.8,430.9 L364.1,433.0 L359.7,435.2 L356.5,432.4"/><path d="M345.3,438.0 L347.0,438.8 L345.8,439.7 L345.3,438.0"/><path d="M368.4,429.8 L371.6,430.2"/><path d="M284.4,462.1 L282.3,468.5 L278.0,473.9 L271.5,478.2 L264.0,481.5 L257.5,486.8 L253.2,493.3 L250.0,500.8 L249.3,507.7"/><path d="M285.5,462.5 L292.0,465.3 L300.6,467.5 L309.2,469.0 L317.8,468.5 L324.2,465.3 L330.7,462.1 L337.1,458.9 L347.9,457.3 L360.8,456.1 L373.7,455.6 L386.6,454.6 L400.0,453.9"/><path d="M317.8,469.0 L319.9,477.1 L323.2,485.8 L324.2,492.2 L315.6,494.4 L304.9,497.6 L300.6,500.8 L292.0,504.1 L289.8,507.7"/><path d="M400.0,396.4 L408.6,395.4 L419.4,399.7 L423.7,405.1 L430.1,410.4 L438.7,415.8 L447.3,419.0 L453.8,422.3 L460.3,426.6 L466.7,429.8 L471.0,434.1 L475.3,438.4 L474.2,444.9 L478.6,440.6 L483.9,436.3 L480.7,430.9 L478.6,426.6 L486.1,427.7 L492.5,429.8 L494.7,426.6 L488.2,422.3 L479.6,418.0 L471.0,414.7 L462.4,411.5 L456.0,406.1 L450.6,399.7 L446.3,394.3 L444.1,388.9 L447.3,386.8 L453.8,387.8 L458.1,385.7"/><path d="M458.1,385.7 L460.3,391.1 L466.7,396.4 L475.3,401.8 L483.9,406.1 L492.5,410.4 L501.1,414.7 L504.4,421.2 L505.5,428.7 L509.8,433.0 L511.9,437.3 L517.3,440.6 L514.1,442.7 L520.5,444.9 L524.8,450.2 L529.1,455.6 L533.4,458.9 L529.1,451.3 L527.0,447.0 L531.3,445.9 L537.7,449.2 L533.4,440.6 L529.1,436.3 L531.3,429.8 L537.7,425.5 L544.2,427.7 L548.5,424.4 L555.0,422.3 L564.0,421.2"/><path d="M461.8,392.3 L464.3,391.3 L464.6,394.1 L467.2,393.2 L467.6,396.6 L470.4,394.9 L470.3,398.2 L473.7,396.7 L473.8,400.3 L476.5,399.1 L476.3,401.7 L479.0,401.0 L479.8,404.4 L482.0,403.1 L483.1,405.6 L485.2,404.9 L485.6,407.3 L488.6,406.5 L488.9,409.4 L491.4,407.6 L491.6,411.2 L495.5,408.6 L495.7,412.2 L497.9,410.3 L499.0,412.6"/><path d="M472.1,388.9 L486.1,387.8 L496.8,388.9 L501.1,395.4 L496.8,401.8 L490.4,406.1 L481.8,399.7 L473.2,393.2 L472.1,388.9"/><path d="M501.1,395.4 L507.6,397.5 L505.5,406.1 L511.9,410.4 L520.5,411.5 L529.1,410.4 L533.4,416.9 L529.1,422.3 L516.2,422.3 L511.9,427.7 L505.5,428.7"/><path d="M529.1,410.4 L533.4,404.0 L529.1,395.4 L520.5,388.9 L516.2,382.5 L520.5,376.0"/><path d="M533.4,416.9 L546.3,415.8 L559.3,414.7 L564.0,413.7"/><path d="M520.5,385.7 L533.4,388.9 L550.6,388.9 L564.0,385.7"/><path d="M421.5,376.0 L428.0,380.3 L438.7,378.2 L451.7,380.3 L453.8,386.8"/><path d="M453.8,380.3 L464.6,382.5 L477.5,379.2 L490.4,381.4 L496.8,384.6 L496.8,388.9"/><path d="M410.8,407.2 L415.1,405.1 L417.2,408.3 L416.1,415.8 L412.9,419.0 L410.3,414.7 L410.8,407.2"/><path d="M407.5,422.3 L412.9,420.1 L419.4,421.2 L420.4,429.8 L418.3,437.3 L411.8,438.4 L407.5,436.3 L408.6,428.7 L407.5,422.3"/><path d="M444.1,445.9 L451.7,444.4 L462.4,443.8 L469.9,442.7 L468.9,449.2 L466.7,454.6 L458.1,452.4 L449.5,450.2 L444.1,445.9"/><path d="M459.2,462.1 L461.3,462.5 L459.8,463.4 L459.2,462.1"/><path d="M400.0,453.5 L412.9,451.3 L423.7,450.2 L430.1,453.5 L426.9,457.8 L430.1,462.1 L432.3,470.7 L429.1,477.1 L432.3,481.5 L436.6,485.8 L447.3,487.9 L458.1,486.8 L464.6,490.1 L471.0,496.5 L479.6,500.8 L490.4,503.0 L494.7,506.2 L503.3,507.7"/><path d="M507.6,505.1 L509.8,496.5 L514.1,490.1 L520.5,486.8 L529.1,485.8 L537.7,489.0 L546.3,493.3 L550.6,497.6 L559.3,498.7 L564.0,499.7"/><path d="M408.6,454.6 L407.5,464.2 L402.2,470.7 L401.1,477.1 L408.6,485.8 L415.1,496.5 L419.4,505.1 L420.4,507.7"/><path d="M432.3,481.5 L425.8,492.2 L420.4,507.7"/><path d="M539.9,466.4 L546.3,464.2 L555.0,465.3 L562.5,467.5 L559.3,470.3 L550.6,469.6 L542.0,469.0 L539.9,466.4"/><path d="M517.3,440.6 L523.7,447.0 L527.0,453.5 L531.3,458.9 L533.4,454.6 L536.7,457.8 L537.7,451.3 L534.5,448.1 L530.2,444.9"/><path d="M550.6,427.7 L552.2,428.1 L551.3,428.9 L550.6,427.7"/><path d="M555.4,430.9 L556.9,431.3 L556.0,432.2 L555.4,430.9"/><path d="M559.7,426.6 L561.2,427.0 L560.3,427.9 L559.7,426.6"/><path d="M548.5,434.1 L550.0,434.5 L549.1,435.4 L548.5,434.1"/><path d="M540.3,436.3 L541.8,436.7 L541.0,437.6 L540.3,436.3"/><path d="M546.8,440.6 L548.3,441.0 L547.4,441.9 L546.8,440.6"/><path d="M555.4,440.6 L556.9,441.0 L556.0,441.9 L555.4,440.6"/><path d="M538.2,441.0 L539.7,441.4 L538.8,442.3 L538.2,441.0"/><path d="M550.6,447.0 L552.2,447.5 L551.3,448.3 L550.6,447.0"/><path d="M546.8,450.2 L548.3,450.7 L547.4,451.5 L546.8,450.2"/><path d="M555.4,454.6 L556.9,455.0 L556.0,455.8 L555.4,454.6"/><path d="M551.1,458.2 L552.6,458.6 L551.7,459.5 L551.1,458.2"/><path d="M542.5,453.5 L544.0,453.9 L543.1,454.8 L542.5,453.5"/><path d="M536.0,457.8 L537.5,458.2 L536.7,459.1 L536.0,457.8"/><path d="M563.1,442.7 L564.6,443.1 L563.8,444.0 L563.1,442.7"/><path d="M560.3,449.2 L561.8,449.6 L561.0,450.5 L560.3,449.2"/><path d="M531.7,438.4 L533.2,438.8 L532.4,439.7 L531.7,438.4"/><path d="M542.5,430.9 L544.0,431.3 L543.1,432.2 L542.5,430.9"/><path d="M534.5,433.0 L536.0,433.5 L535.2,434.3 L534.5,433.0"/><path d="M559.3,459.9 L560.8,460.4 L559.9,461.2 L559.3,459.9"/><path d="M529.1,448.1 L530.6,448.5 L529.8,449.4 L529.1,448.1"/><path d="M537.7,425.9 L541.0,429.8 L539.5,432.4"/><path d="M543.1,427.2 L546.3,431.5"/><path d="M548.5,424.6 L550.6,428.9"/><path d="M550.6,496.5 L551.7,507.7"/><path d="M610.3,380.3 L600.6,386.8 L592.0,388.9 L585.5,393.2 L584.4,399.7 L578.0,408.3 L580.1,414.7 L592.0,418.0 L607.0,420.1 L620.0,415.8 L632.9,414.7 L645.8,415.8 L656.5,420.1 L669.5,422.3 L682.4,422.3 L693.1,419.0 L701.7,415.8 L695.3,408.3 L686.7,402.9 L678.1,397.5 L669.5,392.1 L660.8,388.9 L654.4,390.0 L645.8,386.8 L637.2,384.6 L628.6,387.8 L622.1,383.5 L617.8,380.3 L610.3,380.3"/><path d="M617.8,384.6 L626.4,382.5 L635.0,383.5 L639.3,387.8 L632.9,392.1 L626.4,388.9 L617.8,384.6"/><path d="M639.3,383.5 L650.1,382.5 L660.8,380.3 L667.3,376.0"/><path d="M564.0,420.1 L572.6,422.3 L568.3,427.7 L574.8,432.0 L569.4,438.4 L575.8,444.9 L572.6,451.3 L581.2,454.6 L587.7,458.9 L598.4,456.7 L607.0,454.6 L615.7,458.9 L624.3,461.0 L635.0,458.9 L643.6,455.6 L649.0,456.7 L646.9,463.2 L647.9,470.7 L644.7,479.3 L642.6,487.9 L640.4,496.5 L637.2,503.0 L628.6,505.1 L617.8,501.9 L607.0,499.7 L594.1,498.7 L581.2,500.8 L564.0,499.7"/><path d="M580.1,414.7 L587.7,419.0 L596.3,421.2 L585.5,422.3 L576.9,420.1 L568.3,419.0 L564.0,420.1"/><path d="M616.7,468.5 L624.3,466.4 L632.9,463.8 L636.1,464.7 L628.6,468.5 L622.1,471.8 L616.7,470.7 L616.7,468.5"/><path d="M649.0,456.7 L658.7,455.6 L671.6,454.6 L684.5,453.5 L697.4,452.4 L710.3,450.2 L719.0,451.3 L723.3,440.6 L717.9,432.0 L721.1,425.5 L728.0,423.3"/><path d="M701.7,415.8 L710.3,418.0 L716.8,422.3 L721.1,425.5"/><path d="M678.1,397.5 L688.8,401.8 L701.7,405.1 L714.6,408.3 L728.0,407.2"/><path d="M710.3,418.0 L719.0,414.7 L728.0,415.8"/><path d="M697.4,452.4 L695.3,462.1 L693.1,470.7 L675.9,481.5 L665.1,486.8 L657.6,491.1"/><path d="M675.9,481.5 L674.8,490.1 L658.7,496.5 L667.3,505.1 L663.0,507.7"/><path d="M674.8,490.1 L688.8,496.5 L701.7,503.0 L712.5,507.7"/><path d="M644.7,479.3 L649.0,481.5 L647.9,487.9 L645.8,496.5 L641.5,505.1 L638.2,503.0"/><path d="M639.8,487.9 L641.0,489.0 L640.4,499.7 L638.9,498.7 L639.8,487.9"/><path d="M576.9,406.1 L570.5,408.3 L564.0,406.1"/><path d="M564.0,413.7 L566.2,410.4"/><path d="M565.1,434.1 L566.6,434.5 L565.7,435.4 L565.1,434.1"/><path d="M568.7,440.6 L570.2,441.0 L569.4,441.9 L568.7,440.6"/><path d="M565.7,447.0 L567.2,447.5 L566.4,448.3 L565.7,447.0"/><path d="M572.2,451.8 L573.7,452.2 L572.8,453.0 L572.2,451.8"/><path d="M567.2,457.8 L568.7,458.2 L567.9,459.1 L567.2,457.8"/><path d="M573.0,464.2 L574.5,464.7 L573.7,465.5 L573.0,464.2"/><path d="M570.0,470.7 L571.5,471.1 L570.7,472.0 L570.0,470.7"/><path d="M576.9,462.1 L578.4,462.5 L577.6,463.4 L576.9,462.1"/><path d="M579.1,457.8 L580.6,458.2 L579.7,459.1 L579.1,457.8"/><path d="M564.4,425.5 L565.9,425.9 L565.1,426.8 L564.4,425.5"/><path d="M570.5,429.8 L572.0,430.2 L571.1,431.1 L570.5,429.8"/><path d="M719.0,451.3 L723.3,457.8 L728.0,462.1"/><path d="M98.9,434.5 L102.1,435.2"/><path d="M104.3,436.3 L106.0,436.9"/><path d="M183.9,486.2 L187.1,487.0 L185.0,487.9 L183.9,486.2"/><path d="M330.0,353.0 L336.7,350.5 L343.3,346.3 L348.3,343.0 L355.0,340.5 L359.2,338.8 L363.3,337.2 L367.5,336.3 L370.8,333.0 L374.2,329.7 L376.7,324.7 L380.0,323.0 L385.0,322.2 L390.0,321.3 L395.8,320.5 L398.3,322.2 L401.7,320.5 L408.3,318.8 L410.0,314.7 L408.3,309.7 L407.5,304.7 L406.7,303.0"/><path d="M376.7,325.5 L381.7,325.5 L383.3,329.7 L379.2,330.5 L376.7,325.5"/><path d="M365.8,337.7 L370.0,337.2 L370.8,339.3 L366.7,339.7 L365.8,337.7"/><path d="M378.3,323.0 L383.3,321.7"/><path d="M386.7,321.0 L391.7,320.0"/><path d="M416.7,303.0 L418.3,308.0 L423.3,311.3 L430.0,313.0 L436.7,312.2 L445.0,313.0 L450.0,315.5 L456.7,316.3 L463.0,319.7"/><path d="M395.8,320.5 L395.0,326.3 L391.7,331.3 L394.2,335.5 L387.5,338.0 L389.2,343.0 L385.0,342.2"/><path d="M367.5,336.3 L375.0,338.8 L381.7,338.0 L385.0,342.2 L387.5,347.2 L387.5,353.0 L390.0,354.7"/><path d="M359.2,338.8 L365.0,343.8 L371.7,346.3 L378.3,348.8 L383.3,351.3 L387.5,353.0"/><path d="M390.0,354.7 L396.7,356.3 L403.3,358.0 L401.7,364.7 L400.0,369.7"/><path d="M400.0,369.7 L393.3,371.3 L388.3,376.3 L389.2,379.7 L395.0,376.3 L400.0,378.0 L405.0,376.3 L411.7,377.2 L416.7,373.0 L423.3,372.2 L420.0,368.8 L413.3,367.2 L406.7,368.0 L400.0,369.7"/><path d="M423.3,372.2 L430.0,369.7 L438.3,370.5 L445.0,368.0 L446.7,364.7 L451.7,361.3 L446.7,356.3 L441.7,351.3 L446.7,348.0 L455.0,344.7 L463.0,342.2"/><path d="M458.3,318.8 L460.8,326.3 L459.2,333.0 L463.0,342.2"/><path d="M416.7,373.0 L423.3,376.3 L431.7,374.7 L440.0,376.3 L446.7,374.7 L453.3,376.3 L463.0,374.7"/><path d="M451.7,361.3 L463.0,360.5"/><path d="M389.2,379.7 L393.3,384.7 L391.7,389.7 L395.8,393.8 L393.3,398.8 L396.7,401.3"/><path d="M356.7,406.0 L363.3,403.0 L371.7,401.3 L380.0,403.0 L386.7,401.3 L396.7,401.3 L403.3,398.8 L408.3,396.3 L416.7,398.0 L423.3,403.0 L426.7,406.0"/><path d="M456.7,406.0 L453.3,403.0 L446.7,399.7 L443.3,394.7 L445.0,389.7 L450.0,386.3 L455.0,384.7 L460.0,386.3 L463.0,389.7"/><path d="M453.3,376.3 L455.0,381.3 L458.3,384.7"/></g>
<rect x="72.0" y="110.0" width="655.0" height="398.3" fill="none" stroke="#000" stroke-width="2.2"/>
<g stroke="#000" stroke-width="1"><line x1="72.0" y1="508.3" x2="72.0" y2="511.8"/><line x1="159.3" y1="508.3" x2="159.3" y2="511.8"/><line x1="246.7" y1="508.3" x2="246.7" y2="511.8"/><line x1="334.0" y1="508.3" x2="334.0" y2="511.8"/><line x1="421.3" y1="508.3" x2="421.3" y2="511.8"/><line x1="508.7" y1="508.3" x2="508.7" y2="511.8"/><line x1="596.0" y1="508.3" x2="596.0" y2="511.8"/><line x1="683.3" y1="508.3" x2="683.3" y2="511.8"/><line x1="69.0" y1="508.3" x2="72.0" y2="508.3"/><line x1="69.0" y1="428.6" x2="72.0" y2="428.6"/><line x1="69.0" y1="349.0" x2="72.0" y2="349.0"/><line x1="69.0" y1="269.3" x2="72.0" y2="269.3"/><line x1="69.0" y1="189.7" x2="72.0" y2="189.7"/><line x1="69.0" y1="110.0" x2="72.0" y2="110.0"/></g>
<g font-family="Liberation Sans, sans-serif" font-size="7.8" font-weight="bold" fill="#1a1a1a"><text x="72.0" y="519.6" text-anchor="middle">30W</text><text x="159.3" y="519.6" text-anchor="middle">20W</text><text x="246.7" y="519.6" text-anchor="middle">10W</text><text x="334.0" y="519.6" text-anchor="middle">0</text><text x="421.3" y="519.6" text-anchor="middle">10E</text><text x="508.7" y="519.6" text-anchor="middle">20E</text><text x="596.0" y="519.6" text-anchor="middle">30E</text><text x="683.3" y="519.6" text-anchor="middle">40E</text><text x="67.8" y="511.3" text-anchor="end">30N</text><text x="67.8" y="431.6" text-anchor="end">40N</text><text x="67.8" y="352.0" text-anchor="end">50N</text><text x="67.8" y="272.3" text-anchor="end">60N</text><text x="67.8" y="192.7" text-anchor="end">70N</text><text x="67.8" y="113.0" text-anchor="end">80N</text></g>
<rect x="215.5" y="535.5" width="40.8" height="10.5" fill="#483cc8" stroke="#000" stroke-width="1"/><rect x="256.3" y="535.5" width="40.8" height="10.5" fill="#1e64d2" stroke="#000" stroke-width="1"/><rect x="297.1" y="535.5" width="40.8" height="10.5" fill="#3c96f5" stroke="#000" stroke-width="1"/><rect x="337.9" y="535.5" width="40.8" height="10.5" fill="#78b9fa" stroke="#000" stroke-width="1"/><rect x="419.5" y="535.5" width="40.8" height="10.5" fill="#ffa00a" stroke="#000" stroke-width="1"/><rect x="460.3" y="535.5" width="40.8" height="10.5" fill="#ff3c05" stroke="#000" stroke-width="1"/><rect x="501.1" y="535.5" width="40.8" height="10.5" fill="#a00808" stroke="#000" stroke-width="1"/><rect x="541.9" y="535.5" width="40.8" height="10.5" fill="#d2aaa0" stroke="#000" stroke-width="1"/><polygon points="175,541.5 215.5,535 215.5,546.5" fill="#28089a"/><polygon points="625,541.5 582.7,535 582.7,546.5" fill="#785046"/><line x1="215" y1="546.2" x2="583" y2="546.2" stroke="#000" stroke-width="1.2"/><g font-family="Liberation Sans, sans-serif" font-size="10.3" fill="#111"><text x="216.5" y="555.8" text-anchor="middle">−4</text><text x="257.3" y="555.8" text-anchor="middle">−3</text><text x="298.1" y="555.8" text-anchor="middle">−2</text><text x="338.9" y="555.8" text-anchor="middle">−1</text><text x="379.7" y="555.8" text-anchor="middle">−0.5</text><text x="421.0" y="555.8" text-anchor="middle">0.5</text><text x="461.8" y="555.8" text-anchor="middle">1</text><text x="502.6" y="555.8" text-anchor="middle">2</text><text x="543.4" y="555.8" text-anchor="middle">3</text><text x="584.2" y="555.8" text-anchor="middle">4</text></g>
<g>
<circle cx="672.2" cy="55.3" r="22.6" fill="#3fe6e6"/>
<path d="M645,30 L700,30 L700,48 L694.9,47.6 Q684,58 674,63.5 Q670,65.5 666,63.5 Q657,58 649.2,49.6 L645,49.6 Z" fill="#fff"/>
<path d="M664,63.4 Q673,61 682.5,61.3 Q675,64.2 668,65.8 Z" fill="#d4fafa"/>
<path d="M653.9,43.1 A22.7,22.7 0 0 1 690.8,42.7 Q687,51 674.4,59.9 Q662.5,52.5 653.9,43.1 Z" fill="#1c22c8"/>
<text x="672.6" y="48.9" text-anchor="middle" font-family="Liberation Sans, sans-serif" font-weight="bold" font-size="7.2" fill="#fff" textLength="18.6" lengthAdjust="spacingAndGlyphs">NOAA</text>
</g>
<text x="254" y="82" font-family="Liberation Sans, sans-serif" font-size="15.2" fill="#c4645e" textLength="292" lengthAdjust="spacing">CFSv2 seasonal T2m anomalies (K)</text>
<text x="73" y="107" font-family="Liberation Sans, sans-serif" font-size="15.2" fill="#4a64a0" textLength="132" lengthAdjust="spacing">Jul−Aug−Sep 2023</text>
<text x="618" y="89.2" font-family="Liberation Sans, sans-serif" font-size="16" fill="#2a2a2a" textLength="109.5" lengthAdjust="spacingAndGlyphs">NWS/NCEP/CPC</text>
<text x="500" y="107.4" font-family="Liberation Sans, sans-serif" font-size="11.8" fill="#2a2a2a" textLength="227" lengthAdjust="spacing">Initial conditions: 24Jun2023−3Jul2023</text>
</svg>
</body></html>
